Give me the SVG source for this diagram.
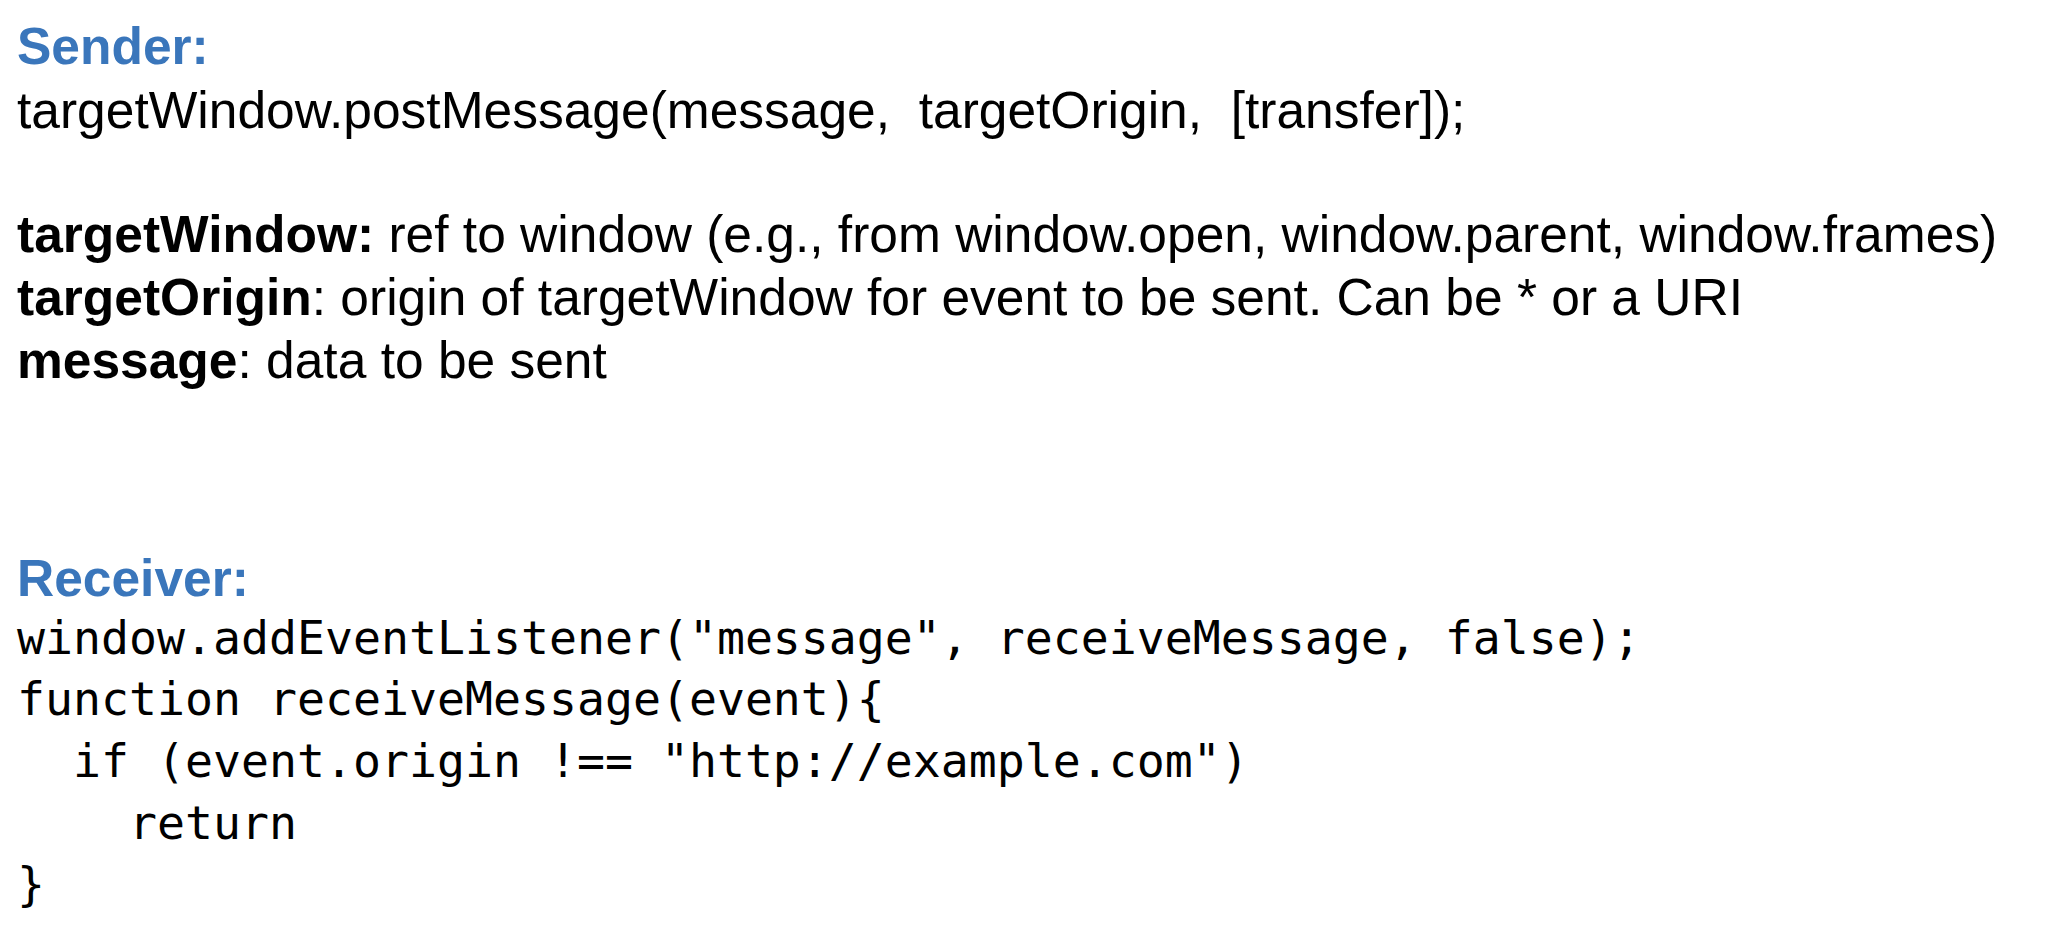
<svg xmlns="http://www.w3.org/2000/svg" width="2060" height="930" viewBox="0 0 2060 930">
<style>
.h{font-family:"Liberation Sans",Arial,sans-serif;font-weight:bold;font-size:51.5px;fill:#3a76bb}
.t{font-family:"Liberation Sans",Arial,sans-serif;font-size:51.5px;fill:#000}
.b{font-weight:bold}
.m{font-family:"DejaVu Sans Mono","Liberation Mono",monospace;font-size:46.5px;fill:#000}
</style>
<rect width="2060" height="930" fill="#fff"/>
<g id="sender">
<text class="h" x="17" y="64">Sender:</text>
<text class="t" x="17" y="128" xml:space="preserve">targetWindow.postMessage(message,  targetOrigin,  [transfer]);</text>
<text class="t" x="17" y="252"><tspan class="b">targetWindow:</tspan> ref to window (e.g., from window.open, window.parent, window.frames)</text>
<text class="t" x="17" y="315"><tspan class="b">targetOrigin</tspan>: origin of targetWindow for event to be sent. Can be * or a URI</text>
<text class="t" x="17" y="378"><tspan class="b">message</tspan>: data to be sent</text>
</g>
<g id="receiver">
<text class="h" x="17" y="596">Receiver:</text>
<text class="m" x="17" y="654" xml:space="preserve">window.addEventListener("message", receiveMessage, false);</text>
<text class="m" x="17" y="715" xml:space="preserve">function receiveMessage(event){</text>
<text class="m" x="17" y="777" xml:space="preserve">  if (event.origin !== "http://example.com")</text>
<text class="m" x="17" y="839" xml:space="preserve">    return</text>
<text class="m" x="17" y="900" xml:space="preserve">}</text>
</g>
</svg>
